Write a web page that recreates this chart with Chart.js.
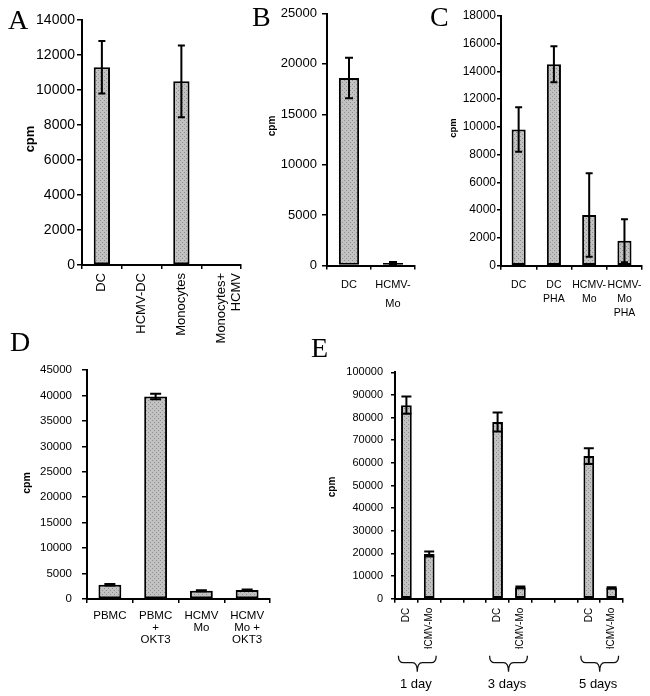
<!DOCTYPE html>
<html><head><meta charset="utf-8">
<script src="https://cdn.jsdelivr.net/npm/chart.js@4.4.1/dist/chart.umd.min.js"></script>
<style>
html,body{margin:0;padding:0;background:#fff;}
#wrap{position:relative;width:650px;height:696px;overflow:hidden;}
#wrap canvas{position:absolute;left:0;top:0;}
.lbl{position:absolute;font-family:'Liberation Serif','Times New Roman',serif;font-size:28px;line-height:1;color:#000;}
</style></head>
<body><div id="wrap">
<canvas id="cA"></canvas><canvas id="cB"></canvas><canvas id="cC"></canvas><canvas id="cD"></canvas><canvas id="cE"></canvas>
<div class="lbl" style="left:8px;top:6px">A</div>
<div class="lbl" style="left:252px;top:3px">B</div>
<div class="lbl" style="left:430px;top:3px">C</div>
<div class="lbl" style="left:10px;top:328px">D</div>
<div class="lbl" style="left:311px;top:334px">E</div>
</div>
<script>
// ---- data ----
const catA = ['DC', 'HCMV-DC', 'Monocytes', ['Monocytes+', 'HCMV']];
const valA = [11300, 0, 10500, 0];
const errA = [1500, 0, 2050, 0];

const catB = ['DC', ['HCMV-', 'Mo']];
const valB = [18600, 250];
const errB = [2000, 100];

const catC = ['DC', ['DC', 'PHA'], ['HCMV-', 'Mo'], ['HCMV-', 'Mo', 'PHA']];
const valC = [9800, 14500, 3650, 1800];
const errC = [1600, 1300, 3000, 1550];

const catD = ['PBMC', ['PBMC', '+', 'OKT3'], ['HCMV', 'Mo'], ['HCMV', 'Mo +', 'OKT3']];
const valD = [2800, 39800, 1600, 1750];
const errD = [150, 550, 100, 100];

const catE = ['DC', 'HCMV-Mo', '', '', 'DC', 'HCMV-Mo', '', '', 'DC', 'HCMV-Mo'];
const valE = [85500, 19700, null, null, 78000, 5000, null, null, 63000, 4800];
const errE = [3800, 1100, null, null, 4200, 400, null, null, 3500, 300];
const groupsE = ['1 day', '3 days', '5 days'];

const yMaxA = 14000, yStepA = 2000;
const yMaxB = 25000, yStepB = 5000;
const yMaxC = 18000, yStepC = 2000;
const yMaxD = 45000, yStepD = 5000;
const yMaxE = 100000, yStepE = 10000;
const yTitle = 'cpm';

// ---- drawing ----
const FONT = "'Liberation Sans', Arial, sans-serif";
const W = 650, H = 696;

function makeFill() {
  const c = document.createElement('canvas'); c.width = 4; c.height = 4;
  const g = c.getContext('2d');
  g.fillStyle = '#c2c2c2'; g.fillRect(0, 0, 4, 4);
  g.fillStyle = '#8e8e8e'; g.fillRect(0, 0, 1, 1); g.fillRect(2, 2, 1, 1);
  return g.createPattern(c, 'repeat');
}
const FILL = makeFill();

function errPlugin(errs, cap) {
  return {
    id: 'errbars',
    afterDatasetsDraw(chart) {
      const ctx = chart.ctx, y = chart.scales.y;
      const meta = chart.getDatasetMeta(0);
      const vals = chart.data.datasets[0].data;
      ctx.save();
      ctx.strokeStyle = '#000'; ctx.lineWidth = 2;
      meta.data.forEach((bar, i) => {
        const v = vals[i], e = errs[i];
        if (v == null || !e) return;
        const x = bar.x;
        const yt = y.getPixelForValue(v + e), yb = y.getPixelForValue(Math.max(0, v - e));
        ctx.beginPath();
        ctx.moveTo(x, yt); ctx.lineTo(x, yb);
        ctx.moveTo(x - cap, yt); ctx.lineTo(x + cap, yt);
        ctx.moveTo(x - cap, yb); ctx.lineTo(x + cap, yb);
        ctx.stroke();
      });
      ctx.restore();
    }
  };
}

function titlePlugin(t) {
  return {
    id: 'ytitle',
    afterDraw(chart) {
      const ctx = chart.ctx;
      ctx.save();
      ctx.translate(t.x, t.y);
      ctx.rotate(-Math.PI / 2);
      ctx.font = 'bold ' + t.size + 'px ' + FONT;
      ctx.fillStyle = '#000'; ctx.textAlign = 'center'; ctx.textBaseline = 'middle';
      ctx.fillText(yTitle, 0, 0);
      ctx.restore();
    }
  };
}

const bracePlugin = {
  id: 'braces',
  afterDraw(chart) {
    const ctx = chart.ctx, x = chart.scales.x, ca = chart.chartArea;
    ctx.save();
    ctx.strokeStyle = '#111'; ctx.lineWidth = 1.3;
    groupsE.forEach((g, i) => {
      const c0 = x.getPixelForValue(i * 4), c1 = x.getPixelForValue(i * 4 + 1);
      const L = c0 - 8, R = c1 + 7, M = (L + R) / 2;
      const y0 = ca.bottom + 57, y1 = y0 + 7, y2 = y0 + 16;
      ctx.beginPath();
      ctx.moveTo(L, y0); ctx.quadraticCurveTo(L, y1, L + 5, y1); ctx.lineTo(M - 5, y1); ctx.quadraticCurveTo(M, y1, M, y2);
      ctx.moveTo(R, y0); ctx.quadraticCurveTo(R, y1, R - 5, y1); ctx.lineTo(M + 5, y1); ctx.quadraticCurveTo(M, y1, M, y2);
      ctx.stroke();
      ctx.fillStyle = '#000'; ctx.font = '13px ' + FONT; ctx.textAlign = 'center'; ctx.textBaseline = 'middle';
      ctx.fillText(g, (c0 + c1) / 2 - 2, ca.bottom + 86);
    });
    ctx.restore();
  }
};

function makePanel(id, geo, cats, vals, errs, o, extra) {
  const cv = document.getElementById(id);
  cv.width = W; cv.height = H;
  const plugins = [errPlugin(errs, o.cap), titlePlugin(o.title)];
  if (extra) plugins.push(extra);
  return new Chart(cv, {
    type: 'bar',
    data: { labels: cats, datasets: [{ data: vals, backgroundColor: FILL, borderColor: '#000', borderWidth: o.bw || 2, borderSkipped: false, barPercentage: o.barPct, categoryPercentage: 1 }] },
    options: {
      responsive: false, animation: false, devicePixelRatio: 1,
      layout: { padding: { left: geo.L - o.yW, right: W - geo.R, top: geo.T, bottom: H - geo.B - o.xH } },
      plugins: { legend: { display: false }, tooltip: { enabled: false } },
      scales: {
        x: {
          afterFit(s) { s.height = o.xH; },
          grid: { drawOnChartArea: false, drawTicks: true, tickLength: 4, color: '#000', lineWidth: 1.5 },
          border: { display: true, color: '#000', width: 2 },
          ticks: { color: '#000', font: { family: FONT, size: o.xFont, lineHeight: o.xLH }, padding: o.xPad, maxRotation: o.rot, minRotation: o.rot, autoSkip: false }
        },
        y: {
          min: 0, max: o.max,
          afterFit(s) { s.width = o.yW; },
          grid: { drawOnChartArea: false, drawTicks: true, tickLength: o.yTL, color: '#000', lineWidth: 1.5 },
          border: { display: true, color: '#000', width: 2 },
          ticks: { stepSize: o.step, color: '#000', font: { family: FONT, size: o.yFont }, padding: o.yPad, callback: v => String(v) }
        }
      }
    },
    plugins: plugins
  });
}

makePanel('cA', { L: 82, R: 241, T: 20, B: 265 }, catA, valA, errA,
  { max: yMaxA, step: yStepA, yW: 60, xH: 80, xFont: 13, xLH: 1.15, xPad: 4, rot: 90, yFont: 14, yPad: 2, yTL: 5, barPct: 0.41, cap: 3.5, title: { x: 30, y: 139, size: 13 } });
makePanel('cB', { L: 327, R: 415, T: 13.5, B: 265.5 }, catB, valB, errB,
  { max: yMaxB, step: yStepB, yW: 60, xH: 50, xFont: 11, xLH: 1.7, xPad: 6, rot: 0, yFont: 13, yPad: 5, yTL: 5, barPct: 0.46, cap: 4, title: { x: 272, y: 126, size: 10 } });
makePanel('cC', { L: 501, R: 645, T: 15.7, B: 265.7 }, catC, valC, errC,
  { max: yMaxC, step: yStepC, yW: 50, xH: 60, xFont: 10.5, xLH: 1.35, xPad: 8, rot: 0, yFont: 12, yPad: 1, yTL: 4, barPct: 0.4, cap: 3.5, title: { x: 453, y: 128, size: 9.5 } });
makePanel('cD', { L: 87, R: 270, T: 370, B: 599 }, catD, valD, errD,
  { max: yMaxD, step: yStepD, yW: 70, xH: 60, xFont: 11.5, xLH: 1.05, xPad: 7, rot: 0, yFont: 11.5, yPad: 10, yTL: 5, barPct: 0.5, cap: 5.5, title: { x: 27, y: 483, size: 10.5 } });
makePanel('cE', { L: 395, R: 623, T: 372.3, B: 598.7 }, catE, valE, errE,
  { max: yMaxE, step: yStepE, yW: 60, xH: 50, xFont: 10, xLH: 1.2, xPad: 5, rot: 90, yFont: 11, yPad: 8, yTL: 4, barPct: 0.47, cap: 5, title: { x: 332, y: 487, size: 10 } }, bracePlugin);
</script>
</body></html>
